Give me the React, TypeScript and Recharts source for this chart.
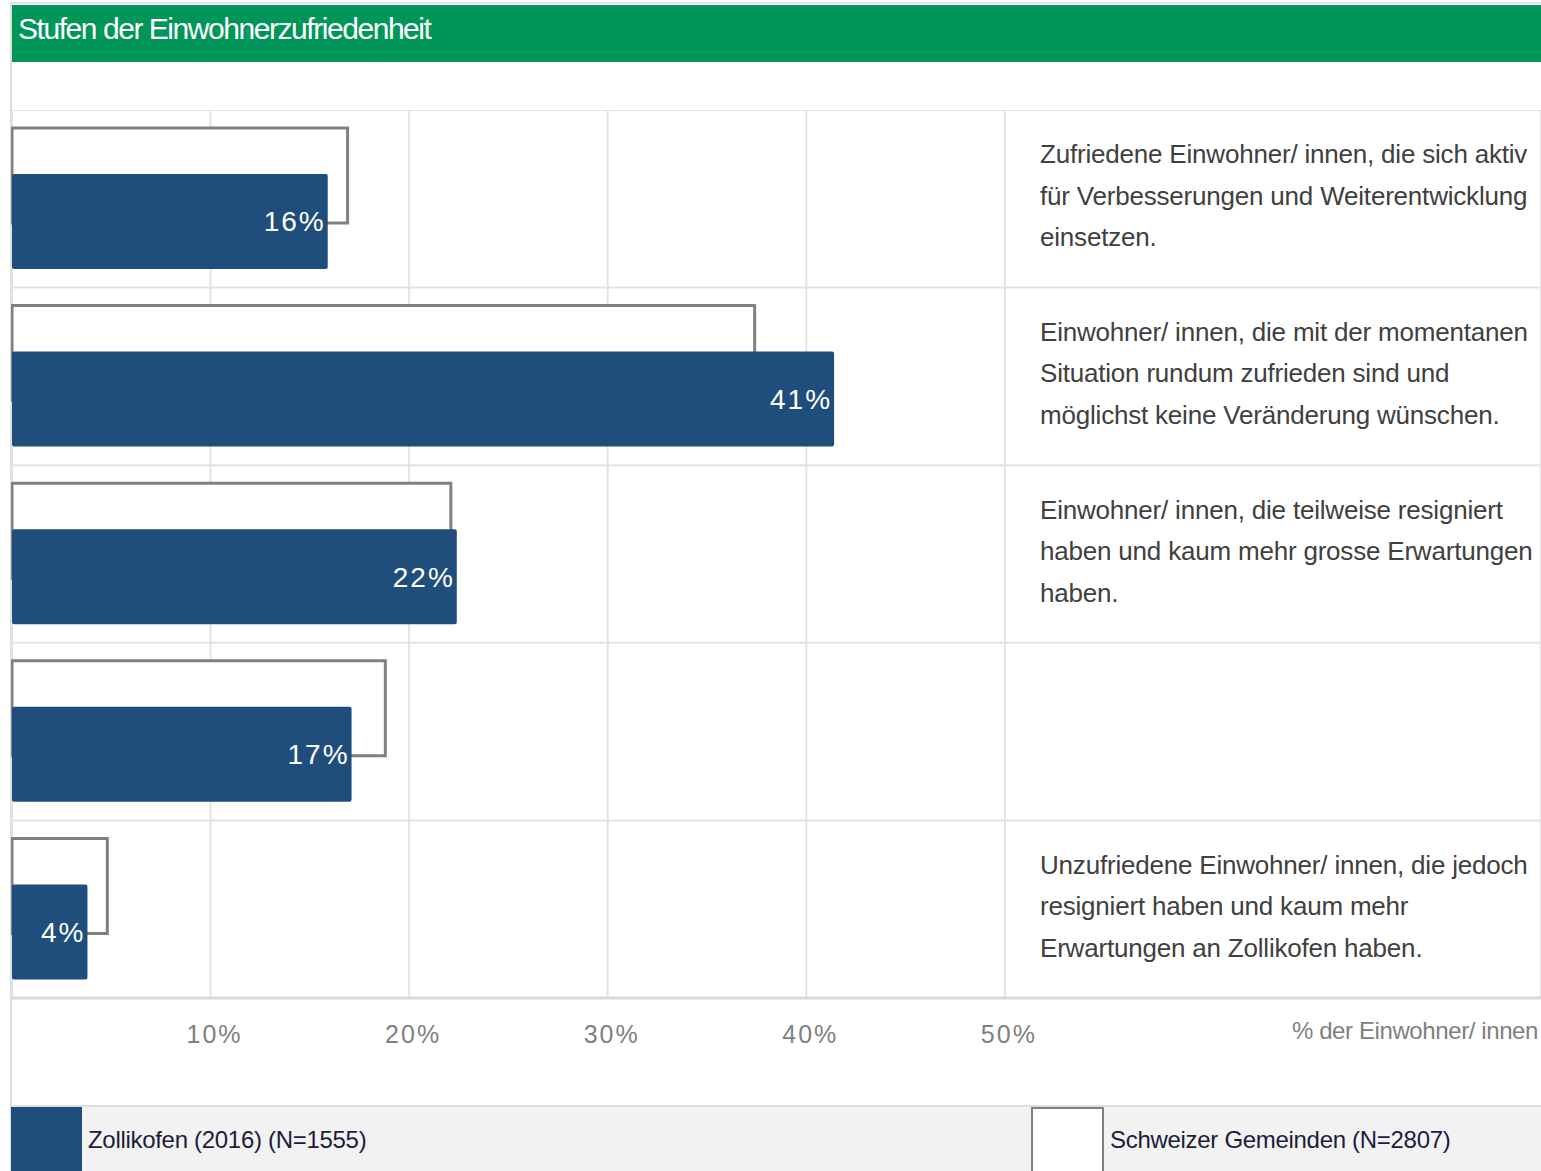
import React from 'react';
import { BarChart, Bar, XAxis, YAxis, CartesianGrid, LabelList, Legend, Label } from 'recharts';

// Stufen der Einwohnerzufriedenheit, values in % of residents
const categories = ['aktiv', 'zufrieden', 'teilweise resigniert', 'resigniert', 'unzufrieden'];
const zollikofen = [15.9, 41.4, 22.4, 17.1, 3.8];
const schweiz = [16.9, 37.4, 22.1, 18.8, 4.8];
const xTicks = [10, 20, 30, 40, 50];

const descriptions: string[][] = [
  ['Zufriedene Einwohner/ innen, die sich aktiv', 'für Verbesserungen und Weiterentwicklung', 'einsetzen.'],
  ['Einwohner/ innen, die mit der momentanen', 'Situation rundum zufrieden sind und', 'möglichst keine Veränderung wünschen.'],
  ['Einwohner/ innen, die teilweise resigniert', 'haben und kaum mehr grosse Erwartungen', 'haben.'],
  [],
  ['Unzufriedene Einwohner/ innen, die jedoch', 'resigniert haben und kaum mehr', 'Erwartungen an Zollikofen haben.'],
];

const seriesNames = {
  zoll: 'Zollikofen (2016) (N=1555)',
  ch: 'Schweizer Gemeinden (N=2807)',
};

const data = categories.map((cat, i) => ({ cat, zoll: zollikofen[i], ch: schweiz[i] }));

const BLUE = '#1F4E7D';
const GREEN = '#009659';
const FONT = '"Liberation Sans", Arial, sans-serif';

const DescTick = (props: any) => {
  const { y, payload } = props;
  const lines = descriptions[categories.indexOf(payload.value)] || [];
  return (
    <g>
      {lines.map((line, i) => (
        <text
          key={i}
          x={1029}
          y={y - 3 + (i - 1) * 41.5}
          dominantBaseline="central"
          fill="#404040"
          fontSize={26}
          letterSpacing={-0.2}
          fontFamily={FONT}
        >
          {line}
        </text>
      ))}
    </g>
  );
};

const renderLegend = (props: any) => {
  const items = [...(props.payload || [])].sort((a: any, b: any) =>
    a.dataKey === 'zoll' ? -1 : b.dataKey === 'zoll' ? 1 : 0
  );
  return (
    <div style={{ display: 'flex', height: 66, background: '#f2f2f2', borderTop: '2px solid #dedede', fontFamily: FONT }}>
      {items.map((entry: any, i: number) => (
        <div key={i} style={{ display: 'flex', alignItems: 'center', width: i === 0 ? 1020 : 509 }}>
          <div
            style={{
              width: i === 0 ? 71 : 73,
              height: 66,
              boxSizing: 'border-box',
              background: entry.color,
              border: entry.color === '#ffffff' ? '2px solid #808080' : 'none',
              borderBottom: 'none',
            }}
          />
          <span style={{ marginLeft: 6, fontSize: 24, color: '#1c1c3c', letterSpacing: -0.3 }}>{entry.value}</span>
        </div>
      ))}
    </div>
  );
};

export default function App() {
  return (
    <div style={{ position: 'relative', width: 1541, height: 1171, overflow: 'hidden', fontFamily: FONT }}>
      <style>{'body{margin:0}'}</style>
      <div style={{ position: 'absolute', left: 10, top: 2, width: 2, height: 1169, background: '#dcdcdc' }} />
      <div style={{ position: 'absolute', left: 10, top: 2, width: 1531, height: 2, background: '#e2e2e2' }} />
      <div
        style={{
          position: 'absolute',
          left: 12,
          top: 5,
          width: 1529,
          height: 57,
          background: GREEN,
          color: '#fff',
          fontSize: 30,
          letterSpacing: -1.45,
          lineHeight: '48px',
          paddingLeft: 6,
          boxSizing: 'border-box',
        }}
      >
        Stufen der Einwohnerzufriedenheit
      </div>
      <div style={{ position: 'absolute', left: 11, top: 110 }}>
        <BarChart
          width={1530}
          height={1063}
          data={data}
          layout="vertical"
          margin={{ top: 0, right: 0, bottom: 0, left: 0 }}
          barSize={95}
          barGap={-49}
        >
          <CartesianGrid
            stroke="#e3e3e3"
            strokeWidth={2}
            horizontalCoordinatesGenerator={({ offset }: any) =>
              categories.map((_, i) => offset.top + (i * offset.height) / categories.length).concat(offset.top + offset.height)
            }
          />
          <XAxis
            type="number"
            domain={[0, 77]}
            ticks={xTicks}
            height={107}
            tickFormatter={(v) => `${v}%`}
            tickLine={false}
            tickMargin={21}
            axisLine={{ stroke: '#d9d9d9', strokeWidth: 3 }}
            tick={{ fill: '#808080', fontSize: 25, letterSpacing: 2, fontFamily: FONT, dx: 4 }}
          >
            <Label
              content={({ viewBox }: any) => (
                <text
                  x={viewBox.x + viewBox.width - 3}
                  y={viewBox.y + 32}
                  textAnchor="end"
                  dominantBaseline="central"
                  fill="#808080"
                  fontSize={24}
                  letterSpacing={-0.4}
                  fontFamily={FONT}
                >
                  % der Einwohner/ innen
                </text>
              )}
            />
          </XAxis>
          <YAxis type="category" dataKey="cat" width={1} axisLine={false} tickLine={false} interval={0} tick={<DescTick />} />
          <Bar
            dataKey="ch"
            name={seriesNames.ch}
            fill="#ffffff"
            stroke="#808080"
            strokeWidth={3}
            isAnimationActive={false}
          />
          <Bar dataKey="zoll" name={seriesNames.zoll} fill={BLUE} radius={2} isAnimationActive={false}>
            <LabelList
              dataKey="zoll"
              position="insideRight"
              offset={2}
              fill="#ffffff"
              fontSize={28}
              letterSpacing={2}
              fontFamily={FONT}
              formatter={(v: any) => `${Math.round(Number(v))}%`}
            />
          </Bar>
          <Legend
            verticalAlign="bottom"
            align="left"
            wrapperStyle={{ left: 0, bottom: 0, width: 1530 }}
            content={renderLegend}
          />
        </BarChart>
      </div>
    </div>
  );
}
